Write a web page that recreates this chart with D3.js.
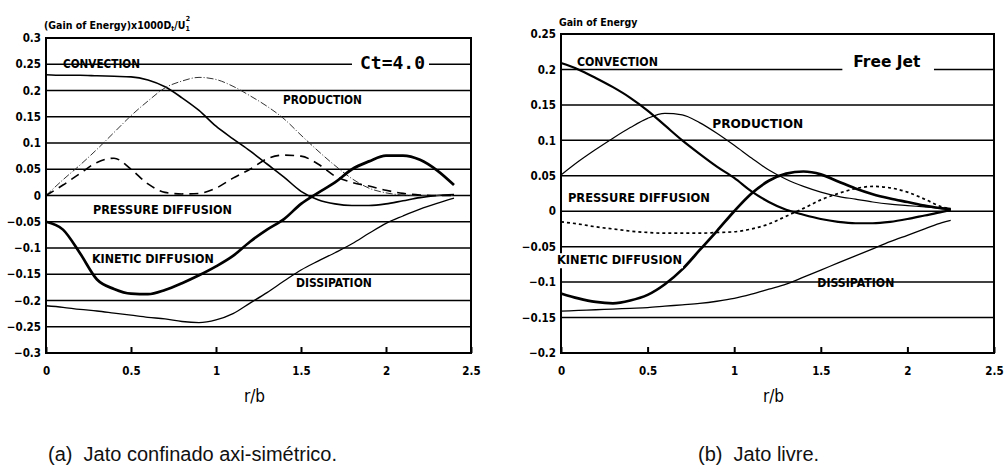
<!DOCTYPE html>
<html>
<head>
<meta charset="utf-8">
<script src="https://cdn.jsdelivr.net/npm/d3@7"></script>
<style>
body { margin: 0; background: #fff; }
text { font-family: "DejaVu Sans Condensed", "Liberation Sans Narrow", sans-serif; font-weight: bold; fill: #000; }
text.rb { font-weight: normal; }
text.cap { font-family: "Liberation Sans", Arial, sans-serif; font-weight: normal; font-size: 20px; fill: #111; white-space: pre; }
</style>
</head>
<body>
<svg id="fig" width="1004" height="468"></svg>
<script>
// ---- (a) confined jet, Ct=4.0 ----
var rA = [0, 0.1, 0.2, 0.3, 0.4, 0.5, 0.6, 0.7, 0.8, 0.9, 1.0, 1.1, 1.2, 1.3, 1.4, 1.5, 1.6, 1.7, 1.8, 1.9, 2.0, 2.1, 2.2, 2.3, 2.4];
var convA = [0.230, 0.229, 0.229, 0.228, 0.227, 0.226, 0.220, 0.207, 0.186, 0.162, 0.132, 0.108, 0.085, 0.060, 0.035, 0.008, -0.008, -0.016, -0.019, -0.019, -0.016, -0.010, -0.004, 0.000, 0.002];
var prodA = [0, 0.030, 0.058, 0.088, 0.120, 0.152, 0.180, 0.205, 0.218, 0.225, 0.221, 0.208, 0.190, 0.170, 0.146, 0.115, 0.085, 0.057, 0.032, 0.014, 0.005, 0.001, 0, 0, 0];
var presA = [0, 0.020, 0.042, 0.063, 0.071, 0.050, 0.022, 0.006, 0.003, 0.004, 0.014, 0.033, 0.050, 0.070, 0.077, 0.075, 0.060, 0.037, 0.025, 0.018, 0.010, 0.004, 0.001, 0, 0];
var kinA = [-0.050, -0.065, -0.110, -0.160, -0.178, -0.187, -0.188, -0.180, -0.167, -0.152, -0.135, -0.115, -0.088, -0.065, -0.045, -0.016, 0.005, 0.025, 0.050, 0.065, 0.076, 0.076, 0.068, 0.048, 0.020];
var dissA = [-0.210, -0.213, -0.217, -0.220, -0.224, -0.228, -0.232, -0.235, -0.240, -0.242, -0.237, -0.225, -0.205, -0.185, -0.163, -0.142, -0.125, -0.109, -0.092, -0.072, -0.053, -0.039, -0.026, -0.015, -0.005];
var yTicksA = [0.3, 0.25, 0.2, 0.15, 0.1, 0.05, 0, -0.05, -0.1, -0.15, -0.2, -0.25, -0.3];

// ---- (b) free jet ----
var rB = [0, 0.1, 0.2, 0.3, 0.4, 0.5, 0.6, 0.7, 0.8, 0.9, 1.0, 1.1, 1.2, 1.3, 1.4, 1.5, 1.6, 1.7, 1.8, 1.9, 2.0, 2.1, 2.2, 2.25];
var convB = [0.209, 0.200, 0.188, 0.175, 0.160, 0.142, 0.121, 0.100, 0.081, 0.063, 0.047, 0.028, 0.013, 0.002, -0.005, -0.011, -0.015, -0.017, -0.017, -0.015, -0.011, -0.006, -0.001, 0.002];
var prodB = [0.051, 0.070, 0.087, 0.103, 0.118, 0.131, 0.138, 0.136, 0.125, 0.110, 0.093, 0.075, 0.058, 0.045, 0.035, 0.027, 0.021, 0.017, 0.013, 0.010, 0.008, 0.006, 0.004, 0.003];
var presB = [-0.015, -0.018, -0.022, -0.025, -0.028, -0.030, -0.031, -0.031, -0.031, -0.030, -0.029, -0.025, -0.018, -0.007, 0.004, 0.016, 0.025, 0.032, 0.035, 0.033, 0.027, 0.017, 0.006, 0.003];
var kinB = [-0.116, -0.123, -0.128, -0.130, -0.126, -0.118, -0.103, -0.082, -0.055, -0.028, 0.000, 0.025, 0.043, 0.053, 0.056, 0.052, 0.042, 0.032, 0.024, 0.018, 0.013, 0.008, 0.004, 0.003];
var dissB = [-0.141, -0.140, -0.139, -0.138, -0.137, -0.136, -0.134, -0.132, -0.130, -0.127, -0.123, -0.117, -0.110, -0.103, -0.093, -0.083, -0.073, -0.063, -0.053, -0.043, -0.034, -0.025, -0.016, -0.013];
var yTicksB = [0.25, 0.2, 0.15, 0.1, 0.05, 0, -0.05, -0.1, -0.15, -0.2];

var xTicks = [0, 0.5, 1, 1.5, 2, 2.5];

var svg = d3.select("#fig");

function panel(cfg) {
  var x = d3.scaleLinear().domain([0, 2.5]).range(cfg.xr);
  var y = d3.scaleLinear().domain(cfg.yd).range(cfg.yr);
  var g = svg.append("g");
  var fmt = function(d) { return d == 0 ? "0" : d3.format("")(d).replace("-", "\u2013"); };

  // horizontal grid
  g.append("g")
    .selectAll("line")
    .data(cfg.yTicks)
    .enter().append("line")
    .attr("x1", cfg.xr[0]).attr("x2", cfg.xr[1])
    .attr("y1", function(d) { return y(d); })
    .attr("y2", function(d) { return y(d); })
    .attr("stroke", "#000")
    .attr("stroke-width", 1.5);

  // y tick labels
  g.append("g")
    .attr("transform", "translate(" + (cfg.xr[0] - 5) + ",0)")
    .call(d3.axisLeft(y).tickValues(cfg.yTicks).tickSize(0).tickPadding(0).tickFormat(fmt))
    .call(function(a) {
      a.select(".domain").remove();
      a.selectAll("text").attr("font-size", cfg.fs).attr("font-family", null);
    });

  // x axis with small inward ticks
  g.append("g")
    .attr("transform", "translate(0," + cfg.yr[0] + ")")
    .call(d3.axisBottom(x).tickValues(xTicks).tickSizeInner(-6).tickSizeOuter(0).tickPadding(14).tickFormat(d3.format("")))
    .call(function(a) {
      a.select(".domain").remove();
      a.selectAll("line").attr("stroke-width", 2);
      a.selectAll("text").attr("font-size", cfg.fs).attr("font-family", null);
    });

  // series
  var line = d3.line()
    .x(function(d) { return x(d[0]); })
    .y(function(d) { return y(d[1]); })
    .curve(d3.curveMonotoneX);

  cfg.series.forEach(function(s) {
    g.append("path")
      .datum(d3.zip(cfg.r, s.v))
      .attr("fill", "none")
      .attr("stroke", s.color || "#000")
      .attr("stroke-width", s.w)
      .attr("stroke-dasharray", s.dash || null)
      .attr("stroke-linejoin", "round")
      .attr("d", line);
  });

  // frame
  g.append("rect")
    .attr("x", cfg.xr[0]).attr("y", cfg.yr[1])
    .attr("width", cfg.xr[1] - cfg.xr[0])
    .attr("height", cfg.yr[0] - cfg.yr[1])
    .attr("fill", "none")
    .attr("stroke", "#000")
    .attr("stroke-width", 2);

  // curve labels
  cfg.labels.forEach(function(l) {
    var t = g.append("text")
      .attr("x", x(l.r))
      .attr("y", y(l.v))
      .attr("font-size", l.fs || 12)
      .attr("textLength", l.len)
      .attr("lengthAdjust", "spacingAndGlyphs")
      .style("font-family", l.ff || null)
      .text(l.t);
    if (l.gap) {
      var b = t.node().getBBox();
      g.append("rect")
        .attr("x", b.x - l.gap[0]).attr("y", b.y + 1)
        .attr("width", b.width + l.gap[0] + l.gap[1]).attr("height", b.height)
        .attr("fill", "#fff");
      t.raise();
    }
  });

  // axis title
  var tt = g.append("text")
    .attr("x", cfg.xr[0] - 2)
    .attr("y", cfg.titleY)
    .attr("font-size", 10.5);
  cfg.title(tt);

  g.append("text")
    .attr("class", "rb")
    .attr("x", x(1.25) - 4)
    .attr("y", 402)
    .attr("text-anchor", "middle")
    .attr("font-size", 17)
    .text("r/b");

  return g;
}

panel({
  xr: [46, 471], yr: [353, 38], yd: [-0.3, 0.3], yTicks: yTicksA, r: rA, fs: 11.5, titleY: 29,
  series: [
    { v: convA, w: 1.6 },
    { v: prodA, w: 1, dash: "7,2,1,2", color: "#333" },
    { v: presA, w: 1.6, dash: "9,6" },
    { v: kinA, w: 2.7 },
    { v: dissA, w: 1.3 }
  ],
  labels: [
    { t: "CONVECTION", r: 0.1, v: 0.242, len: 77 },
    { t: "Ct=4.0", r: 1.847, v: 0.241, len: 65, fs: 17, ff: "'DejaVu Sans Mono', monospace", gap: [8, 4] },
    { t: "PRODUCTION", r: 1.394, v: 0.174, len: 79 },
    { t: "PRESSURE DIFFUSION", r: 0.276, v: -0.035, len: 139 },
    { t: "KINETIC DIFFUSION", r: 0.27, v: -0.129, len: 122 },
    { t: "DISSIPATION", r: 1.47, v: -0.174, len: 76 }
  ],
  title: function(t) {
    t.append("tspan").text("(Gain of Energy)x1000D");
    t.append("tspan").attr("font-size", 7).attr("dy", 2).text("t");
    t.append("tspan").attr("dy", -2).text("/U");
    t.append("tspan").attr("font-size", 7).attr("dy", 2).text("1");
    t.append("tspan").attr("font-size", 7).attr("dx", -4).attr("dy", -10).text("2");
  }
});

panel({
  xr: [561, 994], yr: [353, 34], yd: [-0.2, 0.25], yTicks: yTicksB, r: rB, fs: 11.5, titleY: 26,
  series: [
    { v: convB, w: 2.2 },
    { v: prodB, w: 1.2 },
    { v: presB, w: 1.7, dash: "3,3" },
    { v: kinB, w: 2.7 },
    { v: dissB, w: 1.3 }
  ],
  labels: [
    { t: "CONVECTION", r: 0.092, v: 0.2045, len: 81, fs: 13 },
    { t: "Free Jet", r: 1.688, v: 0.203, len: 67, fs: 15, gap: [11, 13] },
    { t: "PRODUCTION", r: 0.873, v: 0.117, len: 91, fs: 13 },
    { t: "PRESSURE DIFFUSION", r: 0.04, v: 0.0127, len: 142, fs: 13 },
    { t: "KINETIC DIFFUSION", r: -0.023, v: -0.0748, len: 125, fs: 13, gap: [1, 1] },
    { t: "DISSIPATION", r: 1.48, v: -0.107, len: 77, fs: 12 }
  ],
  title: function(t) { t.text("Gain of Energy"); }
});

svg.append("text").attr("class", "cap").attr("x", 48).attr("y", 461).text("(a)  Jato confinado axi-sim\u00e9trico.");
svg.append("text").attr("class", "cap").attr("x", 698).attr("y", 461).text("(b)  Jato livre.");
</script>
</body>
</html>
